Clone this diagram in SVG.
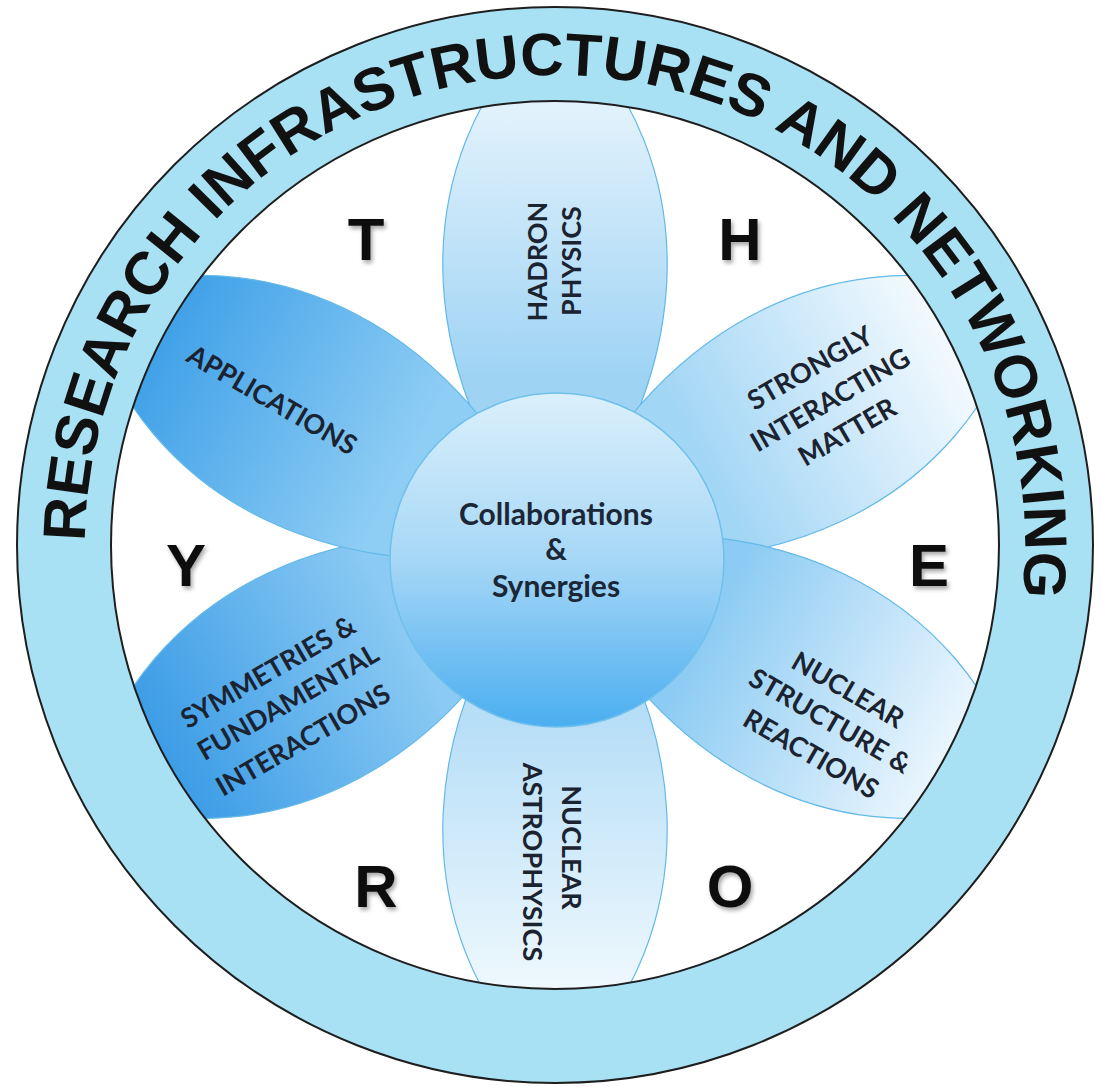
<svg xmlns="http://www.w3.org/2000/svg" width="1103" height="1087" viewBox="0 0 1103 1087">
  <style>
    .petal { stroke: #63b9e8; stroke-width: 1.2; }
    .lbl { font-family: Lato, "Open Sans", "Liberation Sans", sans-serif; font-weight: bold; font-size: 27px; fill: #1b2331; text-anchor: middle; }
    .big { font-family: "Liberation Sans", Arial, sans-serif; font-weight: bold; font-size: 60px; fill: #111; text-anchor: middle; }
    .ring { font-family: "Liberation Sans", Arial, sans-serif; font-weight: bold; font-size: 60px; fill: #111; }
    .ctr { font-family: Lato, "Open Sans", "Liberation Sans", sans-serif; font-weight: bold; font-size: 30px; fill: #1b2636; text-anchor: middle; }
  </style>
  <defs>
    <clipPath id="inner"><circle cx="555" cy="545" r="444"/></clipPath>
    <path id="petalShape" d="M0,0 C130,-150 168,-378 0,-535 C-168,-378 -130,-150 0,0 Z"/>
    <linearGradient id="gTop" gradientUnits="userSpaceOnUse" x1="0" y1="-170" x2="0" y2="-440">
      <stop offset="0" stop-color="#9ed3f4"/><stop offset="1" stop-color="#e2f2fc"/>
    </linearGradient>
    <linearGradient id="gUR" gradientUnits="userSpaceOnUse" x1="0" y1="-170" x2="0" y2="-440">
      <stop offset="0" stop-color="#a2d6f5"/><stop offset="1" stop-color="#f2f9fe"/>
    </linearGradient>
    <linearGradient id="gLR" gradientUnits="userSpaceOnUse" x1="0" y1="-170" x2="0" y2="-440">
      <stop offset="0" stop-color="#8ccbf3"/><stop offset="1" stop-color="#e9f5fd"/>
    </linearGradient>
    <linearGradient id="gBot" gradientUnits="userSpaceOnUse" x1="0" y1="-170" x2="0" y2="-440">
      <stop offset="0" stop-color="#b6def7"/><stop offset="1" stop-color="#eef8fd"/>
    </linearGradient>
    <linearGradient id="gLL" gradientUnits="userSpaceOnUse" x1="0" y1="-170" x2="0" y2="-440">
      <stop offset="0" stop-color="#8bcaf3"/><stop offset="1" stop-color="#3d9de6"/>
    </linearGradient>
    <linearGradient id="gUL" gradientUnits="userSpaceOnUse" x1="0" y1="-170" x2="0" y2="-440">
      <stop offset="0" stop-color="#8ecdf4"/><stop offset="1" stop-color="#42a2e8"/>
    </linearGradient>
    <linearGradient id="gCenter" x1="0" y1="0" x2="0" y2="1">
      <stop offset="0" stop-color="#dbf0fb"/><stop offset="0.5" stop-color="#a6d7f6"/><stop offset="1" stop-color="#4aaef0"/>
    </linearGradient>
    <filter id="shadow" x="-20%" y="-20%" width="150%" height="150%">
      <feDropShadow dx="2" dy="3" stdDeviation="2" flood-color="#000" flood-opacity="0.35"/>
    </filter>
    <path id="ringPath" d="M86.79,585.96 A470,470 0 1,1 1017.86,626.61"/>
  </defs>

  <rect width="1103" height="1087" fill="#fff"/>

  <g id="petals" clip-path="url(#inner)">
    <g id="petal-hadron"><use href="#petalShape" class="petal" fill="url(#gTop)" transform="translate(555,547) rotate(0)"/></g>
    <g id="petal-strongly"><use href="#petalShape" class="petal" fill="url(#gUR)" transform="translate(555,547) rotate(62)"/></g>
    <g id="petal-nuclear-structure"><use href="#petalShape" class="petal" fill="url(#gLR)" transform="translate(555,547) rotate(118)"/></g>
    <g id="petal-astro"><use href="#petalShape" class="petal" fill="url(#gBot)" transform="translate(555,547) rotate(180)"/></g>
    <g id="petal-symmetries"><use href="#petalShape" class="petal" fill="url(#gLL)" transform="translate(555,547) rotate(242)"/></g>
    <g id="petal-applications"><use href="#petalShape" class="petal" fill="url(#gUL)" transform="translate(555,547) rotate(298)"/></g>
  </g>

  <g id="ring">
    <circle cx="555" cy="545" r="491" fill="none" stroke="#a9e1f4" stroke-width="94"/>
    <circle cx="555" cy="545" r="538" fill="none" stroke="#1e1e1e" stroke-width="2"/>
    <circle cx="555" cy="545" r="444" fill="none" stroke="#1e1e1e" stroke-width="2"/>
    <text class="ring"><textPath href="#ringPath" startOffset="807" text-anchor="middle">RESEARCH INFRASTRUCTURES AND NETWORKING</textPath></text>
  </g>

  <g id="center">
    <circle cx="557" cy="560" r="167" fill="url(#gCenter)" stroke="#6fc0eb" stroke-width="1.5"/>
    <text class="ctr"><tspan x="556" y="525">Collaborations</tspan><tspan x="556" y="560">&amp;</tspan><tspan x="556" y="597">Synergies</tspan></text>
  </g>

  <g id="labels">
    <g id="label-hadron">
      <text class="lbl" transform="translate(546.5,261.5) rotate(-90)">HADRON</text>
      <text class="lbl" transform="translate(581,261) rotate(-90)">PHYSICS</text>
    </g>
    <g id="label-astro">
      <text class="lbl" transform="translate(562,847.5) rotate(90)">NUCLEAR</text>
      <text class="lbl" transform="translate(523,862) rotate(90)">ASTROPHYSICS</text>
    </g>
    <g id="label-applications">
      <text class="lbl" transform="translate(267.3,408.2) rotate(30)">APPLICATIONS</text>
    </g>
    <g id="label-strongly">
      <text class="lbl" transform="translate(814.8,376.2) rotate(-30)">STRONGLY</text>
      <text class="lbl" transform="translate(834.8,408.2) rotate(-30)">INTERACTING</text>
      <text class="lbl" transform="translate(851.8,440.2) rotate(-30)">MATTER</text>
    </g>
    <g id="label-nuclear-structure">
      <text class="lbl" transform="translate(843.3,698.2) rotate(30)">NUCLEAR</text>
      <text class="lbl" transform="translate(825.3,729.2) rotate(30)">STRUCTURE &amp;</text>
      <text class="lbl" transform="translate(806.3,762.2) rotate(30)">REACTIONS</text>
    </g>
    <g id="label-symmetries">
      <text class="lbl" transform="translate(272.8,680.2) rotate(-30)">SYMMETRIES &amp;</text>
      <text class="lbl" transform="translate(292.8,710.2) rotate(-30)">FUNDAMENTAL</text>
      <text class="lbl" transform="translate(307.8,748.2) rotate(-30)">INTERACTIONS</text>
    </g>
  </g>

  <g id="letters" filter="url(#shadow)">
    <text class="big" x="366" y="260">T</text>
    <text class="big" x="740" y="260">H</text>
    <text class="big" x="186" y="586">Y</text>
    <text class="big" x="929" y="586">E</text>
    <text class="big" x="376" y="907">R</text>
    <text class="big" x="730" y="907">O</text>
  </g>
</svg>
